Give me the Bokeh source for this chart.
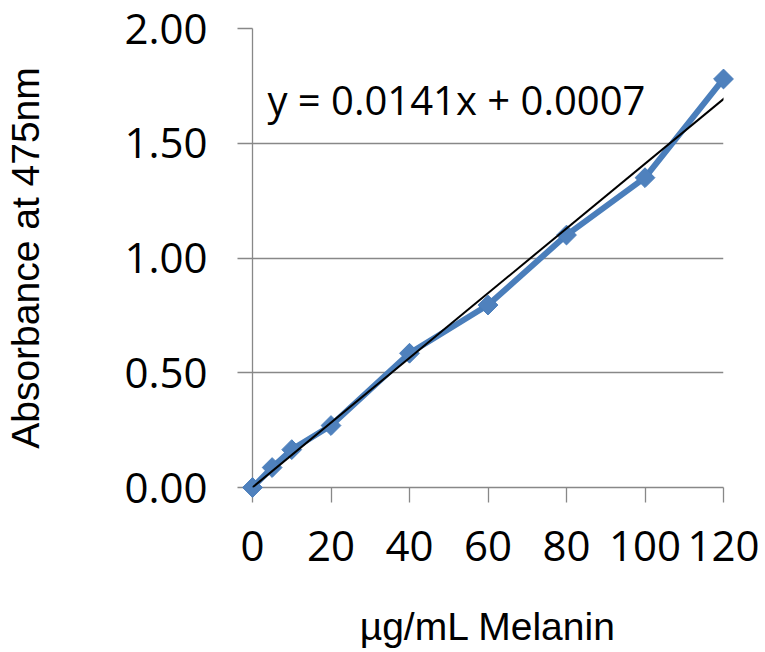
import numpy as np
from bokeh.plotting import figure
from bokeh.models import (Range1d, FixedTicker, NumeralTickFormatter, Label, Slope)
from bokeh.embed import file_html
from bokeh.resources import INLINE

# Data
concentration = [0, 5, 10, 20, 40, 60, 80, 100, 120]          # µg/mL Melanin
absorbance = [0.00, 0.087, 0.165, 0.27, 0.585, 0.795, 1.10, 1.35, 1.78]
x_ticks = [0, 20, 40, 60, 80, 100, 120]
y_ticks = [0.0, 0.5, 1.0, 1.5, 2.0]
trend_slope = 0.0141
trend_intercept = 0.0007
equation_text = "y = 0.0141x + 0.0007"

GRAY = "#888888"
BLUE = "#4A7EBB"

p = figure(width=764, height=650, output_backend="svg", toolbar_location=None,
           x_range=Range1d(0, 120), y_range=Range1d(0, 2),
           min_border_left=252, min_border_right=41, min_border_top=28, min_border_bottom=162)
p.outline_line_color = None
p.background_fill_color = "white"
p.border_fill_color = "white"

# Grid
p.xgrid.grid_line_color = None
p.ygrid.grid_line_color = GRAY
p.ygrid.grid_line_width = 1.3
p.ygrid.ticker = FixedTicker(ticks=y_ticks)

# Axes
for ax in (p.xaxis[0], p.yaxis[0]):
    ax.axis_line_color = GRAY
    ax.axis_line_width = 1.3
    ax.major_tick_line_color = GRAY
    ax.major_tick_line_width = 1.3
    ax.major_tick_out = 15
    ax.major_tick_in = 0
    ax.minor_tick_line_color = None
    ax.major_label_text_font = "Open Sans"
    ax.major_label_text_font_size = "42px"
    ax.major_label_text_color = "black"
    ax.axis_label_text_font = "Liberation Sans"
    ax.axis_label_text_font_size = "39px"
    ax.axis_label_text_font_style = "normal"
    ax.axis_label_text_color = "black"

p.xaxis.ticker = FixedTicker(ticks=x_ticks)
p.yaxis.ticker = FixedTicker(ticks=y_ticks)
p.yaxis.formatter = NumeralTickFormatter(format="0.00")
p.xaxis.axis_label = "µg/mL Melanin"
p.yaxis.axis_label = "Absorbance at 475nm"
p.yaxis.major_label_standoff = 30
p.yaxis.axis_label_standoff = 74
p.xaxis.major_label_standoff = 28
p.xaxis.axis_label_standoff = 41

# Data series
line = p.line(concentration, absorbance, line_color=BLUE, line_width=6, level="overlay")
pts = p.scatter(concentration, absorbance, marker="square", angle=np.pi / 4, size=14,
                fill_color="#4F81BD", line_color=BLUE, level="overlay")

# Linear trend line
trend = Slope(gradient=trend_slope, y_intercept=trend_intercept, line_color="black",
              line_width=2, level="overlay")
p.add_layout(trend)

eq = Label(x=3.8, y=1.69, text=equation_text, text_font="Open Sans", text_font_size="40px",
           text_baseline="middle", text_align="left", text_color="black")
p.add_layout(eq)

open("out.html", "w").write(file_html(p, INLINE))
